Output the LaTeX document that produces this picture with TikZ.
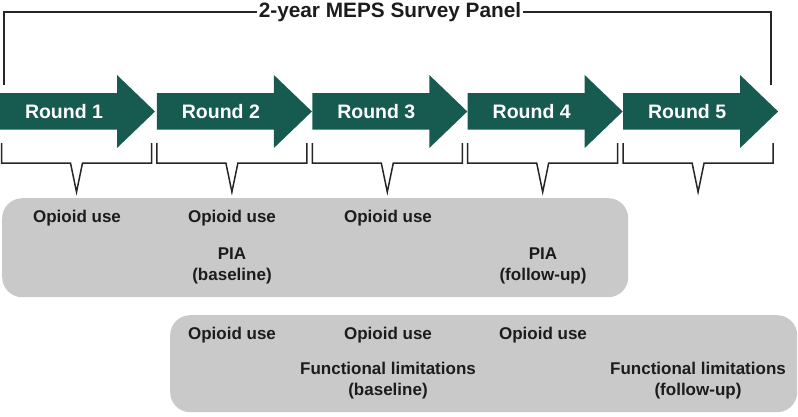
\documentclass[tikz,border=0pt]{standalone}
\usepackage{fontspec}
\setmainfont{Liberation Sans}
\definecolor{teal}{RGB}{22,90,80}
\definecolor{boxgray}{RGB}{201,201,201}
\definecolor{txt}{RGB}{28,28,28}
\begin{document}
\begin{tikzpicture}[x=1pt,y=-1pt,
  roundarrow/.style={fill=teal,draw=none},
  roundlbl/.style={font=\fontsize{19.5}{22}\selectfont\bfseries,text=white,inner sep=0pt},
  brk/.style={draw=black!85,line width=1.7pt},
  panel/.style={fill=boxgray,draw=none,rounded corners=20pt},
  lbl/.style={font=\fontsize{17}{19}\selectfont\bfseries,text=txt,align=center,inner sep=0pt},
  ttl/.style={font=\fontsize{20.8}{23}\selectfont\bfseries,text=txt,inner sep=2pt}]
\useasboundingbox (0,0) rectangle (798,416);
% title bracket
\node[ttl] (title) at (390,12) {2-year MEPS Survey Panel};
\draw[brk] (4,85) |- (title.west);
\draw[brk] (771,85) |- (title.east);
% arrows and braces
\foreach \i/\s in {1/0,2/156.9,3/312.3,4/467.7,5/623.1}{
  \fill[roundarrow] (\s,93) -- (\s+117,93) -- (\s+117,75) -- (\s+155,111.5) -- (\s+117,148) -- (\s+117,129.5) -- (\s,129.5) -- cycle;
  \node[roundlbl] (r\i) at (\s+64,112) {Round \i};
}
\foreach \i/\s in {1/1.5,2/156.9,3/312.3,4/467.7,5/623.1}{
  \draw[brk,line width=1.5pt,line join=miter] (\s,143) -- (\s,163) -- (\s+69,163) -- (\s+75,192) -- (\s+81,163) -- (\s+150,163) -- (\s+150,143);
}
% panels
\node[panel,minimum width=626pt,minimum height=99pt,anchor=north west] (p1) at (2,198) {};
\node[panel,minimum width=627pt,minimum height=97pt,anchor=north west] (p2) at (170,315) {};
% panel 1 text
\node[lbl] (a1) at (77,218) {Opioid use};
\node[lbl] (a2) at (232,218) {Opioid use};
\node[lbl] (a3) at (388,218) {Opioid use};
\node[lbl] (b2) at (232,265.5) {PIA\\[2pt](baseline)};
\node[lbl] (b4) at (543,265.5) {PIA\\[2pt](follow-up)};
% panel 2 text
\node[lbl] (c2) at (232,335) {Opioid use};
\node[lbl] (c3) at (388,335) {Opioid use};
\node[lbl] (c4) at (543,335) {Opioid use};
\node[lbl] (d3) at (388,381) {Functional limitations\\[2pt](baseline)};
\node[lbl] (d5) at (698,381) {Functional limitations\\[2pt](follow-up)};
\end{tikzpicture}
\end{document}
